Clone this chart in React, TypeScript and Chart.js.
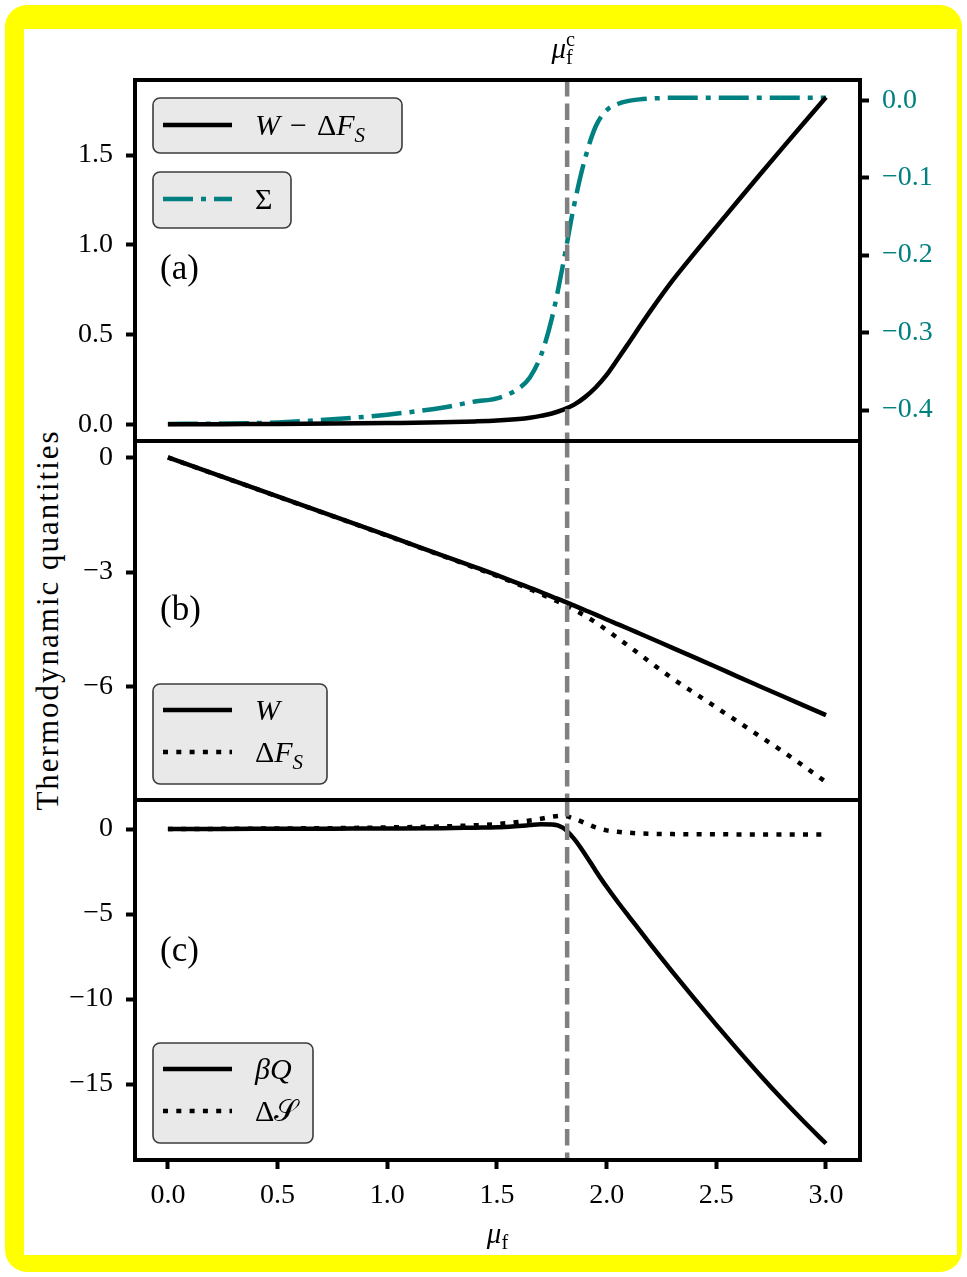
import React, { useEffect, useRef } from 'react';
import { Chart, registerables } from 'chart.js';
Chart.register(...registerables);

// ---- data ----
const mu = [0, 0.25, 0.5, 0.75, 1.0, 1.25, 1.4, 1.5, 1.6, 1.65, 1.7, 1.75, 1.8, 1.85, 1.9, 1.95, 2.0, 2.05, 2.1, 2.15, 2.2, 2.3, 2.4, 2.5, 2.6, 2.7, 2.8, 2.9, 3.0];
const workMinusFree = [0, 0.001, 0.002, 0.004, 0.007, 0.011, 0.016, 0.021, 0.030, 0.037, 0.047, 0.060, 0.080, 0.108, 0.150, 0.205, 0.275, 0.362, 0.452, 0.543, 0.632, 0.80, 0.952, 1.10, 1.247, 1.393, 1.537, 1.68, 1.822];
const sigma = [-0.418, -0.4175, -0.416, -0.412, -0.406, -0.397, -0.389, -0.385, -0.372, -0.358, -0.330, -0.282, -0.214, -0.138, -0.077, -0.034, -0.013, -0.005, -0.001, 0.001, 0.002, 0.003, 0.003, 0.003, 0.003, 0.003, 0.003, 0.003, 0.003];
const work = [0, -0.51, -1.02, -1.53, -2.04, -2.56, -2.87, -3.08, -3.30, -3.41, -3.52, -3.64, -3.75, -3.87, -3.99, -4.11, -4.24, -4.36, -4.48, -4.605, -4.73, -4.98, -5.23, -5.48, -5.74, -5.99, -6.24, -6.49, -6.74];
const freeEnergy = [0, -0.511, -1.022, -1.534, -2.047, -2.571, -2.886, -3.101, -3.33, -3.447, -3.567, -3.70, -3.83, -3.978, -4.14, -4.315, -4.515, -4.722, -4.932, -5.148, -5.362, -5.78, -6.16, -6.54, -6.92, -7.30, -7.68, -8.08, -8.49];
const heat = [0, 0.005, 0.01, 0.02, 0.03, 0.05, 0.08, 0.10, 0.18, 0.23, 0.28, 0.27, 0.08, -0.55, -1.45, -2.45, -3.40, -4.28, -5.12, -5.95, -6.78, -8.40, -9.98, -11.52, -13.02, -14.48, -15.88, -17.22, -18.5];
const entropy = [0, 0.01, 0.03, 0.05, 0.09, 0.15, 0.22, 0.29, 0.42, 0.50, 0.60, 0.72, 0.78, 0.62, 0.36, 0.10, -0.08, -0.16, -0.22, -0.26, -0.28, -0.30, -0.31, -0.31, -0.32, -0.32, -0.32, -0.32, -0.32];
const muCritical = 1.82;

const xTicks = [0, 0.5, 1.0, 1.5, 2.0, 2.5, 3.0];
const aLeftTicks = [0, 0.5, 1.0, 1.5];
const aRightTicks = [0, -0.1, -0.2, -0.3, -0.4];
const bTicks = [0, -3, -6];
const cTicks = [0, -5, -10, -15];

// ---- styling ----
const FONT = '"Liberation Serif", "DejaVu Serif", serif';
const TEAL = '#008080';
const LW = 4.5;
const DASHDOT = [30, 8, 5, 8];
const DOTTED = [5, 8.3];
const LEG_FONT = 30;

type Seg = { t: string; it?: boolean; sub?: boolean; sup?: boolean; keep?: boolean; pad?: number };

const fontStr = (size: number, italic?: boolean) => `${italic ? 'italic ' : ''}${size}px ${FONT}`;

function richWidth(ctx: CanvasRenderingContext2D, segs: Seg[], size: number) {
  let w = 0;
  for (const s of segs) {
    const fs = s.sub || s.sup ? size * 0.7 : size;
    ctx.font = fontStr(fs, s.it);
    if (!s.keep) w += ctx.measureText(s.t).width + (s.pad || 0);
  }
  return w;
}

function drawRich(ctx: CanvasRenderingContext2D, segs: Seg[], x: number, y: number, size: number, color: string) {
  let cx = x;
  ctx.fillStyle = color;
  ctx.textBaseline = 'alphabetic';
  ctx.textAlign = 'left';
  for (const s of segs) {
    const fs = s.sub || s.sup ? size * 0.7 : size;
    ctx.font = fontStr(fs, s.it);
    const dy = s.sub ? size * 0.22 : s.sup ? -size * 0.42 : 0;
    ctx.fillText(s.t, cx, y + dy);
    if (!s.keep) cx += ctx.measureText(s.t).width + (s.pad || 0);
  }
}

const minus = (v: number, d: number) => (v < 0 ? '\u2212' : '') + Math.abs(v).toFixed(d);

type Item = { dy: number; color: string; dash: number[]; segs: Seg[] };
type Box = { dx: number; dy: number; fromBottom?: boolean; w: number; h: number; items: Item[] };

function panelPlugin(cfg: { boxes: Box[]; label: string; labelDy: number; extra?: (chart: any) => void }) {
  return {
    id: 'panelDecor',
    afterDraw(chart: any) {
      const ctx: CanvasRenderingContext2D = chart.ctx;
      const a = chart.chartArea;
      const xs = chart.scales.x;
      ctx.save();
      // critical-mu dashed line
      const px = xs.getPixelForValue(muCritical);
      ctx.strokeStyle = '#808080';
      ctx.lineWidth = LW;
      ctx.setLineDash([16.5, 7]);
      ctx.beginPath();
      ctx.moveTo(px, a.top);
      ctx.lineTo(px, a.bottom);
      ctx.stroke();
      ctx.setLineDash([]);
      // frame
      ctx.strokeStyle = '#000';
      ctx.lineWidth = 4;
      ctx.strokeRect(a.left, a.top, a.right - a.left, a.bottom - a.top);
      // legends
      for (const b of cfg.boxes) {
        const bx = a.left + b.dx;
        const by = b.fromBottom ? a.bottom - b.dy - b.h : a.top + b.dy;
        ctx.beginPath();
        (ctx as any).roundRect(bx, by, b.w, b.h, 7);
        ctx.fillStyle = '#e9e9e9';
        ctx.fill();
        ctx.strokeStyle = '#3c3c3c';
        ctx.lineWidth = 1.6;
        ctx.stroke();
        for (const it of b.items) {
          const ly = by + it.dy;
          ctx.strokeStyle = it.color;
          ctx.lineWidth = LW;
          ctx.lineCap = 'butt';
          ctx.setLineDash(it.dash);
          ctx.beginPath();
          ctx.moveTo(bx + 10, ly);
          ctx.lineTo(bx + 79, ly);
          ctx.stroke();
          ctx.setLineDash([]);
          drawRich(ctx, it.segs, bx + 102, ly + 10, LEG_FONT, '#000');
        }
      }
      // panel label
      ctx.fillStyle = '#000';
      ctx.font = fontStr(35);
      ctx.textBaseline = 'middle';
      ctx.textAlign = 'left';
      ctx.fillText(cfg.label, a.left + 25, a.top + cfg.labelDy);
      if (cfg.extra) cfg.extra(chart);
      ctx.restore();
    },
  };
}

const gridCfg = { display: true, drawOnChartArea: false, drawTicks: true, tickLength: 9, tickWidth: 4, tickColor: '#000' };

function xScale(show: boolean) {
  return {
    type: 'linear',
    min: -0.15,
    max: 3.155,
    display: show,
    afterBuildTicks: (s: any) => { s.ticks = xTicks.map((v) => ({ value: v })); },
    afterFit: (s: any) => { s.height = show ? 56 : 0; },
    grid: gridCfg,
    border: { display: false },
    ticks: { font: { family: FONT, size: 28 }, color: '#000', padding: 10, maxRotation: 0, autoSkip: false, callback: (v: any) => Number(v).toFixed(1) },
  };
}

function yScale(min: number, max: number, ticks: number[], fmt: (v: number) => string, position = 'left', color = '#000', width = 135) {
  return {
    type: 'linear',
    position,
    min,
    max,
    afterBuildTicks: (s: any) => { s.ticks = ticks.map((v) => ({ value: v })); },
    afterFit: (s: any) => { s.width = width; },
    grid: gridCfg,
    border: { display: false },
    ticks: { font: { family: FONT, size: 28 }, color, padding: 13, autoSkip: false, callback: (v: any) => fmt(Number(v)) },
  };
}

const pts = (ys: number[]) => mu.map((x, i) => ({ x, y: ys[i] }));
const ds = (label: string, ys: number[], color: string, dash: number[], axis = 'y') => ({
  label,
  data: pts(ys),
  borderColor: color,
  borderWidth: LW,
  borderDash: dash,
  borderCapStyle: 'butt',
  pointRadius: 0,
  fill: false,
  cubicInterpolationMode: 'monotone',
  yAxisID: axis,
});

const baseOpts = (padding: any, scales: any) => ({
  responsive: false,
  maintainAspectRatio: false,
  animation: false,
  events: [],
  layout: { padding },
  plugins: { legend: { display: false }, tooltip: { enabled: false } },
  scales,
});

const segWdF: Seg[] = [{ t: 'W', it: true, pad: 10 }, { t: '\u2212', pad: 10 }, { t: '\u0394' }, { t: 'F', it: true }, { t: 'S', it: true, sub: true }];
const segSigma: Seg[] = [{ t: '\u03A3' }];
const segW: Seg[] = [{ t: 'W', it: true }];
const segdF: Seg[] = [{ t: '\u0394' }, { t: 'F', it: true }, { t: 'S', it: true, sub: true }];
const segbQ: Seg[] = [{ t: '\u03B2', it: true }, { t: 'Q', it: true }];
const segdS: Seg[] = [{ t: '\u0394' }, { t: '\uD835\uDCAE' }];

export default function App() {
  const refA = useRef<HTMLCanvasElement>(null);
  const refB = useRef<HTMLCanvasElement>(null);
  const refC = useRef<HTMLCanvasElement>(null);

  useEffect(() => {
    const charts: any[] = [];
    charts.push(new Chart(refA.current as any, {
      type: 'line',
      data: {
        datasets: [
          ds('W - ΔF_S', workMinusFree, '#000', []),
          ds('Σ', sigma, TEAL, DASHDOT, 'y2'),
        ],
      } as any,
      options: baseOpts({ top: 50, bottom: 32, left: 0, right: 0 }, {
        x: xScale(false),
        y: yScale(-0.093, 1.918, aLeftTicks, (v) => v.toFixed(1)),
        y2: yScale(-0.44, 0.026, aRightTicks, (v) => minus(v, 1), 'right', TEAL, 107),
      }) as any,
      plugins: [panelPlugin({
        boxes: [
          { dx: 18, dy: 18, w: 249, h: 55, items: [{ dy: 27, color: '#000', dash: [], segs: segWdF }] },
          { dx: 18, dy: 92, w: 138, h: 56, items: [{ dy: 27, color: TEAL, dash: DASHDOT, segs: segSigma }] },
        ],
        label: '(a)',
        labelDy: 190,
        extra: (chart: any) => {
          const ctx = chart.ctx;
          const px = chart.scales.x.getPixelForValue(muCritical);
          const segs: Seg[] = [{ t: '\u03BC', it: true }, { t: 'c', sup: true, keep: true }, { t: 'f', sub: true }];
          const w = richWidth(ctx, segs, 29);
          drawRich(ctx, segs, px - w / 2 - 5, chart.chartArea.top - 22, 29, '#000');
        },
      }) as any],
    }));
    charts.push(new Chart(refB.current as any, {
      type: 'line',
      data: {
        datasets: [
          ds('W', work, '#000', []),
          ds('ΔF_S', freeEnergy, '#000', DOTTED),
        ],
      } as any,
      options: baseOpts({ top: 32, bottom: 32, left: 0, right: 107 }, {
        x: xScale(false),
        y: yScale(-8.96, 0.43, bTicks, (v) => minus(v, 0)),
      }) as any,
      plugins: [panelPlugin({
        boxes: [
          { dx: 18, dy: 16, fromBottom: true, w: 174, h: 100, items: [
            { dy: 26, color: '#000', dash: [], segs: segW },
            { dy: 68, color: '#000', dash: DOTTED, segs: segdF },
          ] },
        ],
        label: '(b)',
        labelDy: 170,
      }) as any],
    }));
    charts.push(new Chart(refC.current as any, {
      type: 'line',
      data: {
        datasets: [
          ds('βQ', heat, '#000', []),
          ds('ΔS', entropy, '#000', DOTTED),
        ],
      } as any,
      options: baseOpts({ top: 32, bottom: 48, left: 0, right: 107 }, {
        x: xScale(true),
        y: yScale(-19.47, 1.706, cTicks, (v) => minus(v, 0)),
      }) as any,
      plugins: [panelPlugin({
        boxes: [
          { dx: 18, dy: 17, fromBottom: true, w: 160, h: 100, items: [
            { dy: 26, color: '#000', dash: [], segs: segbQ },
            { dy: 68, color: '#000', dash: DOTTED, segs: segdS },
          ] },
        ],
        label: '(c)',
        labelDy: 152,
        extra: (chart: any) => {
          const ctx = chart.ctx;
          const a = chart.chartArea;
          const segs: Seg[] = [{ t: '\u03BC', it: true }, { t: 'f', sub: true }];
          const w = richWidth(ctx, segs, 29);
          drawRich(ctx, segs, (a.left + a.right) / 2 - w / 2, a.bottom + 83, 29, '#000');
        },
      }) as any],
    }));
    return () => charts.forEach((c) => c.destroy());
  }, []);

  const cv = (top: number, height: number): React.CSSProperties => ({ position: 'absolute', left: 0, top, width: 967, height });

  return (
    <div style={{ position: 'absolute', left: 0, top: 0, width: 967, height: 1277, overflow: 'hidden', background: '#fff' }}>
      <div style={{ position: 'absolute', left: 5, top: 5, width: 957, height: 1267, background: '#ffff00', borderRadius: 22 }} />
      <div style={{ position: 'absolute', left: 24, top: 29, width: 933, height: 1226, background: '#fff' }} />
      <div
        style={{
          position: 'absolute', left: 48 - 250, top: 620 - 17, width: 500, height: 34, lineHeight: '34px',
          textAlign: 'center', transform: 'rotate(-90deg)', fontFamily: FONT, fontSize: 31, letterSpacing: '2px', color: '#000',
        }}
      >
        Thermodynamic quantities
      </div>
      <canvas ref={refA} width={967} height={443} style={cv(30, 443)} />
      <canvas ref={refB} width={967} height={423} style={cv(409, 423)} />
      <canvas ref={refC} width={967} height={496} style={cv(768, 496)} />
    </div>
  );
}
